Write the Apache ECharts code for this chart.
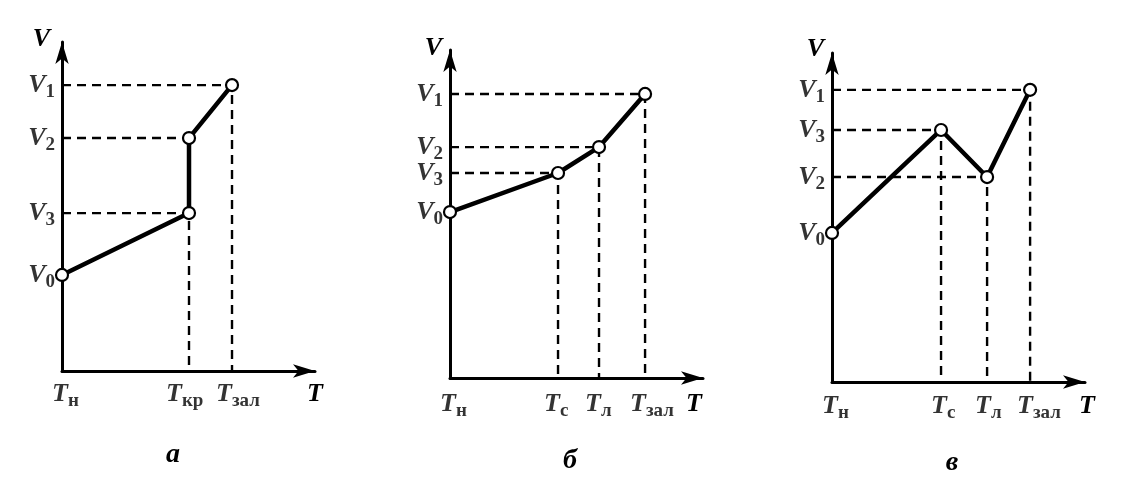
<!DOCTYPE html>
<html>
<head>
<meta charset="utf-8">
<script src="https://cdn.jsdelivr.net/npm/echarts@6/dist/echarts.min.js"></script>
<style>
html,body{margin:0;padding:0;background:#fff;}
#c{width:1140px;height:495px;}
</style>
</head>
<body>
<div id="c"></div>
<script>
// ---------- DATA ----------
// Panel а
const aT = [0, 50.2, 50.2, 67.2];
const aV = [29.2, 48.0, 70.8, 86.9];
const aVNames = ['0', '3', '2', '1'];
const aTTickValues = [0, 50.2, 67.2];
const aTTickNames = ['н', 'кр', 'зал'];
// Panel б
const bT = [0, 42.7, 58.9, 77.1];
const bV = [50.6, 62.5, 70.4, 86.6];
const bVNames = ['0', '3', '2', '1'];
const bTTickValues = [0, 42.7, 58.9, 77.1];
const bTTickNames = ['н', 'с', 'л', 'зал'];
// Panel в
const cT = [0, 43.1, 61.3, 78.3];
const cV = [45.3, 76.6, 62.3, 88.8];
const cVNames = ['0', '3', '2', '1'];
const cTTickValues = [0, 43.1, 61.3, 78.3];
const cTTickNames = ['н', 'с', 'л', 'зал'];
const panelLetters = ['а', 'б', 'в'];

// ---------- STYLE ----------
const FONT = 'Liberation Serif';
const grids = [
  {left: 62, top: 42, width: 253, height: 329},
  {left: 450, top: 50, width: 253, height: 328},
  {left: 832, top: 53, width: 253, height: 329}
];
const vNameStyle = [
  {gap: 3, padR: 12},
  {gap: 2, padR: 8},
  {gap: 4, padR: 8}
];
const tNameStyle = [
  {gap: 0, padT: 10},
  {gap: -9, padT: 13},
  {gap: 2, padT: 11}
];
const tLabelDistance = [7, 10, 8];
const tLabelNudge = [[0, -13, -6], [0, -4, -4, -5], [0, 0, -2, -3]];
const letterPos = [
  {left: 173, top: 441},
  {left: 570, top: 447},
  {left: 952, top: 449}
];

const rich = {
  v: {fontFamily: FONT, fontStyle: 'italic', fontWeight: 'bold', fontSize: 26, color: '#000'},
  s: {fontFamily: FONT, fontWeight: 'bold', fontSize: 19, color: '#000', padding: [14, 0, 0, 0]}
};

const panels = [
  {T: aT, V: aV, vNames: aVNames, tVals: aTTickValues, tNames: aTTickNames},
  {T: bT, V: bV, vNames: bVNames, tVals: bTTickValues, tNames: bTTickNames},
  {T: cT, V: cV, vNames: cVNames, tVals: cTTickValues, tNames: cTTickNames}
];

const xAxes = [], yAxes = [], series = [], titles = [];
const axisLine = {
  show: true, onZero: false,
  lineStyle: {color: '#000', width: 3},
  symbol: ['none', 'arrow'], symbolSize: [10, 22]
};

panels.forEach((p, i) => {
  xAxes.push({
    type: 'value', gridIndex: i, min: 0, max: 100,
    axisLine: axisLine, axisTick: {show: false}, axisLabel: {show: false}, splitLine: {show: false},
    name: 'T', nameLocation: 'end', nameGap: tNameStyle[i].gap,
    nameTextStyle: {fontFamily: FONT, fontStyle: 'italic', fontWeight: 'bold', fontSize: 26, color: '#000',
      align: 'center', verticalAlign: 'top', padding: [tNameStyle[i].padT, 0, 0, 0]}
  });
  yAxes.push({
    type: 'value', gridIndex: i, min: 0, max: 100,
    axisLine: axisLine, axisTick: {show: false}, axisLabel: {show: false}, splitLine: {show: false},
    name: 'V', nameLocation: 'end', nameGap: vNameStyle[i].gap,
    nameTextStyle: {fontFamily: FONT, fontStyle: 'italic', fontWeight: 'bold', fontSize: 26, color: '#000',
      align: 'right', verticalAlign: 'middle', padding: [0, vNameStyle[i].padR, 0, 0]}
  });

  // dashed guides
  const minVAtT = {};
  p.T.forEach((t, k) => {
    if (t === 0) return;
    minVAtT[t] = (minVAtT[t] === undefined) ? p.V[k] : Math.min(minVAtT[t], p.V[k]);
  });
  p.T.forEach((t, k) => {
    if (t === 0) return;
    const pts = [[0, p.V[k]], [t, p.V[k]]];
    if (p.V[k] === minVAtT[t]) pts.push([t, 0]);
    series.push({
      type: 'line', xAxisIndex: i, yAxisIndex: i, data: pts, symbol: 'none', silent: true, z: 1,
      lineStyle: {color: '#000', width: 2.4, type: [9, 6]}
    });
  });

  // main polyline
  series.push({
    type: 'line', xAxisIndex: i, yAxisIndex: i, z: 5,
    data: p.T.map((t, k) => [t, p.V[k]]),
    symbol: 'circle', symbolSize: 12, showSymbol: true,
    lineStyle: {color: '#000', width: 4.5},
    itemStyle: {color: '#fff', borderColor: '#000', borderWidth: 2.2}
  });

  // V tick labels
  series.push({
    type: 'scatter', xAxisIndex: i, yAxisIndex: i, symbolSize: 0, silent: true, z: 6,
    data: p.V.map((v, k) => ({value: [0, v], name: p.vNames[k]})),
    label: {show: true, position: 'left', distance: 7,
      formatter: (q) => '{v|V}{s|' + q.name + '}', rich: rich}
  });

  // T tick labels
  series.push({
    type: 'scatter', xAxisIndex: i, yAxisIndex: i, symbolSize: 0, silent: true, z: 6,
    data: p.tVals.map((t, k) => ({value: [t, 0], name: p.tNames[k],
      label: {offset: [-10 + tLabelNudge[i][k], 0]}})),
    label: {show: true, position: 'bottom', distance: tLabelDistance[i], align: 'left',
      formatter: (q) => '{v|T}{s|' + q.name + '}', rich: rich}
  });

  titles.push({
    text: panelLetters[i], left: letterPos[i].left, top: letterPos[i].top, textAlign: 'center', padding: 0,
    textStyle: {fontFamily: FONT, fontStyle: 'italic', fontWeight: 'bold', fontSize: 28, color: '#000'}
  });
});

const chart = echarts.init(document.getElementById('c'), null, {renderer: 'canvas'});
chart.setOption({
  backgroundColor: '#fff',
  animation: false,
  title: titles,
  grid: grids,
  xAxis: xAxes,
  yAxis: yAxes,
  series: series
});
</script>
</body>
</html>
